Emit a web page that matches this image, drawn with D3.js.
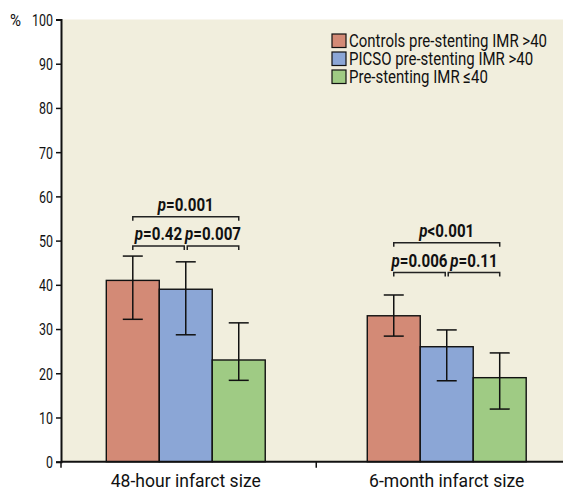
<!DOCTYPE html>
<html>
<head>
<meta charset="utf-8">
<script src="https://cdn.jsdelivr.net/npm/d3@7"></script>
<style>
  body { margin: 0; background: #fff; }
  text { font-family: "Roboto", "Liberation Sans", sans-serif; fill: #111; }
</style>
</head>
<body>
<div id="chart"></div>
<script>
const groups = ["48-hour infarct size", "6-month infarct size"];
const series = ["Controls pre-stenting IMR >40", "PICSO pre-stenting IMR >40", "Pre-stenting IMR \u226440"];
const colors = ["#d38a76", "#8ba6d6", "#9fcb84"];

const means = [[41, 39, 23], [33, 26, 19]];
const errUpper = [[46.5, 45.2, 31.4], [37.7, 29.8, 24.6]];
const errLower = [[32.2, 28.7, 18.4], [28.4, 18.3, 11.9]];

const yTicks = [0, 10, 20, 30, 40, 50, 60, 70, 80, 90, 100];

// comparisons: group, bar a, bar b, bracket level, label
const compGroup = [0, 0, 0, 1, 1, 1];
const compFrom = [0, 0, 1, 0, 0, 1];
const compTo = [2, 1, 2, 2, 1, 2];
const compLevel = [55.4, 48.8, 48.8, 49.5, 42.8, 42.8];
const compOp = ["=", "=", "=", "<", "=", "="];
const compVal = ["0.001", "0.42", "0.007", "0.001", "0.006", "0.11"];

const svgWidth = 563, svgHeight = 490;
const margin = { top: 19.5, right: 0, bottom: 28, left: 61 };
const width = svgWidth - margin.left - margin.right;
const height = 461.7 - margin.top;

// squeeze a set of texts by the factor that gives the reference node the target width
function fitTo(sel, target, refNode) {
  const nodes = sel.nodes();
  if (!nodes.length) return;
  const ref = refNode || nodes[0];
  const k = target / ref.getComputedTextLength();
  nodes.forEach(n => {
    const w = n.getComputedTextLength();
    d3.select(n).attr("textLength", w * k).attr("lengthAdjust", "spacingAndGlyphs");
  });
}

const svg = d3.select("#chart").append("svg")
    .attr("width", svgWidth)
    .attr("height", svgHeight)
  .append("g")
    .attr("transform", "translate(" + margin.left + "," + margin.top + ")");

svg.append("rect")
    .attr("width", width)
    .attr("height", height)
    .attr("fill", "#f1eedd");

const x0 = d3.scaleBand()
    .domain(groups)
    .range([0, 510.5])
    .paddingInner(0.391)
    .paddingOuter(0.1736);

const x1 = d3.scaleBand()
    .domain(d3.range(series.length))
    .range([0, x0.bandwidth()]);

const y = d3.scaleLinear()
    .domain([0, 100])
    .range([height, 0]);

// bars
const g = svg.selectAll(".grp")
    .data(groups)
  .enter().append("g")
    .attr("class", "grp")
    .attr("transform", d => "translate(" + x0(d) + ",0)");

g.selectAll("rect")
    .data((d, i) => means[i].map((v, j) => ({ v, j, gi: i })))
  .enter().append("rect")
    .attr("x", d => x1(d.j))
    .attr("y", d => y(d.v))
    .attr("width", x1.bandwidth())
    .attr("height", d => y(0) - y(d.v))
    .attr("fill", d => colors[d.j])
    .attr("stroke", "#111")
    .attr("stroke-width", 1.4);

// error bars
const capW = 10;
g.each(function(d, i) {
  const sel = d3.select(this);
  for (let j = 0; j < series.length; j++) {
    const cx = x1(j) + x1.bandwidth() / 2;
    sel.append("line")
        .attr("x1", cx).attr("x2", cx)
        .attr("y1", y(errUpper[i][j])).attr("y2", y(errLower[i][j]))
        .attr("stroke", "#111").attr("stroke-width", 1.5);
    [errUpper[i][j], errLower[i][j]].forEach(v => {
      sel.append("line")
          .attr("x1", cx - capW).attr("x2", cx + capW)
          .attr("y1", y(v)).attr("y2", y(v))
          .attr("stroke", "#111").attr("stroke-width", 1.5);
    });
  }
});

// significance brackets
compGroup.forEach((gi, k) => {
  const off = x0(groups[gi]);
  let xa = off + x1(compFrom[k]) + x1.bandwidth() / 2;
  let xb = off + x1(compTo[k]) + x1.bandwidth() / 2;
  if (compTo[k] - compFrom[k] === 1) {
    if (compFrom[k] === 0) xb -= 1.5; else xa += 1.5;
  }
  const yy = y(compLevel[k]);
  svg.append("path")
      .attr("d", "M" + xa + "," + (yy + 4) + "V" + yy + "H" + xb + "V" + (yy + 4))
      .attr("fill", "none")
      .attr("stroke", "#222")
      .attr("stroke-width", 1.5);
  const t = svg.append("text")
      .attr("class", "plab")
      .attr("x", (xa + xb) / 2)
      .attr("y", yy - 5.5)
      .attr("text-anchor", "middle")
      .attr("font-size", 18)
      .attr("font-weight", "bold");
  t.append("tspan").attr("font-style", "italic").text("p");
  t.append("tspan").text(compOp[k] + compVal[k]);
});
fitTo(svg.selectAll(".plab"), 56);

// y axis
const yAxis = svg.append("g")
    .call(d3.axisLeft(y).tickValues(yTicks).tickSize(5).tickPadding(3));
yAxis.select(".domain").attr("stroke", "#111").attr("stroke-width", 2);
yAxis.selectAll(".tick line").attr("stroke", "#111").attr("stroke-width", 1.5);
const tickTexts = yAxis.selectAll(".tick text")
    .attr("font-size", 16.5).attr("font-family", null).attr("dy", "0.36em");
fitTo(tickTexts, 21, tickTexts.filter(d => d === 100).node());

const pct = svg.append("text")
    .attr("x", -51)
    .attr("y", 6)
    .attr("font-size", 16.5)
    .text("%");
fitTo(pct, 11);

// x axis
const xAxisG = svg.append("g")
    .attr("transform", "translate(0," + height + ")");
xAxisG.append("line")
    .attr("x1", 0).attr("x2", width)
    .attr("stroke", "#111").attr("stroke-width", 2);
xAxisG.selectAll(".xt")
    .data([0, (x0(groups[0]) + x0.bandwidth() + x0(groups[1])) / 2])
  .enter().append("line")
    .attr("x1", d => d).attr("x2", d => d)
    .attr("y1", 0).attr("y2", 6)
    .attr("stroke", "#111").attr("stroke-width", 1.5);
xAxisG.selectAll(".xl")
    .data(groups)
  .enter().append("text")
    .attr("class", "xl")
    .attr("x", d => x0(d) + x0.bandwidth() / 2)
    .attr("y", 25.5)
    .attr("text-anchor", "middle")
    .attr("font-size", 18.5)
    .text(d => d);
fitTo(xAxisG.selectAll(".xl"), 150);

// legend
const legend = svg.append("g")
    .attr("transform", "translate(271,14.5)");
series.forEach((s, i) => {
  const row = legend.append("g").attr("transform", "translate(0," + (i * 18) + ")");
  row.append("rect")
      .attr("width", 14).attr("height", 13.5)
      .attr("fill", colors[i])
      .attr("stroke", "#111").attr("stroke-width", 1.2);
  row.append("text")
      .attr("class", "lg")
      .attr("x", 17)
      .attr("y", 13)
      .attr("font-size", 19)
      .text(s);
});
fitTo(legend.selectAll(".lg"), 198);
</script>
</body>
</html>
